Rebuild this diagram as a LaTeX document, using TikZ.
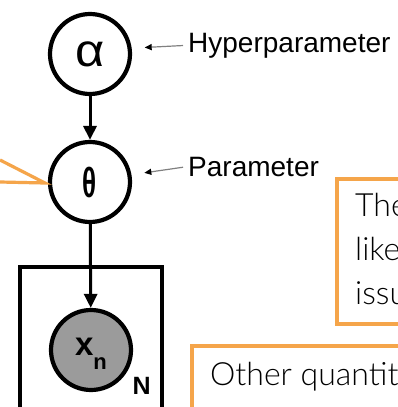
\documentclass[tikz,border=0pt]{standalone}
\usepackage{fontspec}
\setmainfont{Liberation Sans}
\newfontfamily\calloutfont{Lato Light}
\usetikzlibrary{arrows.meta,positioning}
\definecolor{calloutorange}{HTML}{F5A54A}
\definecolor{observedgray}{HTML}{9B9B9B}

\begin{document}
\begin{tikzpicture}[x=1pt,y=-1pt,
  var/.style={circle, draw=black, line width=4.2pt, minimum size=80pt, inner sep=0pt},
  edge/.style={line width=3pt, -{Triangle[length=14pt,width=13pt]}},
  pointer/.style={draw=gray, line width=1.2pt, -{Triangle[length=7pt,width=6pt,color=black]},
    shorten <=5pt, shorten >=13pt},
  callout/.style={draw=calloutorange, line width=4pt, anchor=north west, inner sep=0pt},
  callouttext/.style={font=\calloutfont\fontsize{32}{44}\selectfont, inner sep=0pt, align=left},
  sidelabel/.style={anchor=base west, inner sep=0pt, font=\fontsize{28}{28}\selectfont}]
\useasboundingbox (0,0) rectangle (398,407);
\fill[white] (0,0) rectangle (398,407);
\clip (0,0) rectangle (398,407);

% graphical model
\node[var] (alpha) at (90,54) {\fontsize{46}{46}\selectfont\scalebox{1.1}[1]{α}};
\node[var] (theta) at (90,182) {\fontsize{42}{42}\selectfont\bfseries\scalebox{0.62}[1]{θ}};
\node[draw, line width=4pt, minimum width=142pt, minimum height=160pt, anchor=north west,
  inner sep=0pt] (plate) at (18,265) {};
\node[var, fill=observedgray] (xn) at (91,350)
  {\fontsize{33}{33}\selectfont\bfseries\rule{0pt}{25pt}x\raisebox{-14pt}{\fontsize{22}{22}\selectfont n}};
\node[anchor=south east, inner sep=0pt, font=\bfseries\fontsize{25}{25}\selectfont] (platelabel)
  at (151,395) {N};

\draw[edge] (alpha) -- (theta);
\draw[edge] (theta) -- (xn);

% labels on the right
\node[sidelabel] (hyperlabel) at (188,52) {Hyperparameter};
\node[sidelabel] (paramlabel) at (188,176) {Parameter};
\draw[pointer] (hyperlabel.west) -- (alpha.8);
\draw[pointer] (paramlabel.west) -- (theta.10);

% callouts
\coordinate (tip) at (45,183);
\draw[calloutorange, line width=3.2pt] (0,160) -- (tip) -- (0,182);
\node[callout, minimum width=100pt, minimum height=145pt] (likebox) at (335,177) {};
\node[callouttext, anchor=north west] (liketext) at (355,193) {The\\like\\issu};
\node[callout, minimum width=260pt, minimum height=100pt] (otherbox) at (190,344) {};
\node[callouttext, anchor=base west] (othertext) at (210,385) {Other quantit};
\end{tikzpicture}
\end{document}
